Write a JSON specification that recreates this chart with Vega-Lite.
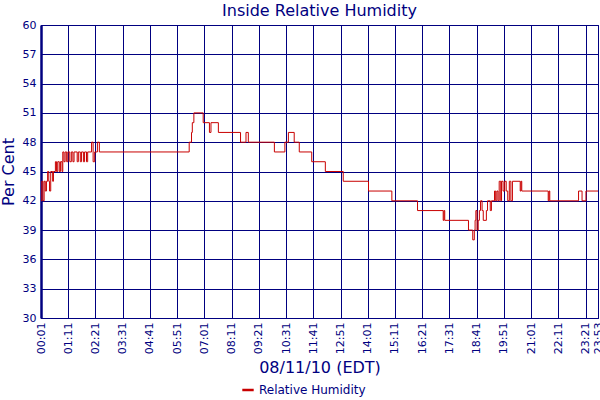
{
  "$schema": "https://vega.github.io/schema/vega-lite/v6.json",
  "width": 557,
  "height": 293,
  "autosize": {"type": "none"},
  "padding": {"left": 41, "top": 25, "right": 2, "bottom": 82},
  "background": "white",
  "title": {"text": "Inside Relative Humidity", "fontSize": 16, "font": "DejaVu Sans", "fontWeight": "normal", "color": "#000080", "offset": 0},
  "config": {
    "view": {"stroke": "#000080", "strokeWidth": 1},
    "font": "DejaVu Sans"
  },
  "data": {"values": [
    {"t": "2010-08-11T00:01", "rh": 42},
    {"t": "2010-08-11T00:03", "rh": 44},
    {"t": "2010-08-11T00:06", "rh": 42},
    {"t": "2010-08-11T00:09", "rh": 44},
    {"t": "2010-08-11T00:12", "rh": 43},
    {"t": "2010-08-11T00:15", "rh": 44},
    {"t": "2010-08-11T00:18", "rh": 45},
    {"t": "2010-08-11T00:21", "rh": 44},
    {"t": "2010-08-11T00:23", "rh": 43},
    {"t": "2010-08-11T00:26", "rh": 45},
    {"t": "2010-08-11T00:31", "rh": 44},
    {"t": "2010-08-11T00:33", "rh": 45},
    {"t": "2010-08-11T00:38", "rh": 46},
    {"t": "2010-08-11T00:41", "rh": 45},
    {"t": "2010-08-11T00:44", "rh": 46},
    {"t": "2010-08-11T00:48", "rh": 45},
    {"t": "2010-08-11T00:51", "rh": 46},
    {"t": "2010-08-11T00:55", "rh": 45},
    {"t": "2010-08-11T00:57", "rh": 47},
    {"t": "2010-08-11T01:00", "rh": 46},
    {"t": "2010-08-11T01:03", "rh": 47},
    {"t": "2010-08-11T01:07", "rh": 46},
    {"t": "2010-08-11T01:10", "rh": 47},
    {"t": "2010-08-11T01:15", "rh": 46},
    {"t": "2010-08-11T01:19", "rh": 47},
    {"t": "2010-08-11T01:23", "rh": 46},
    {"t": "2010-08-11T01:26", "rh": 47},
    {"t": "2010-08-11T01:34", "rh": 46},
    {"t": "2010-08-11T01:37", "rh": 47},
    {"t": "2010-08-11T01:42", "rh": 46},
    {"t": "2010-08-11T01:45", "rh": 47},
    {"t": "2010-08-11T01:50", "rh": 46},
    {"t": "2010-08-11T01:53", "rh": 47},
    {"t": "2010-08-11T01:58", "rh": 46},
    {"t": "2010-08-11T02:01", "rh": 47},
    {"t": "2010-08-11T02:11", "rh": 48},
    {"t": "2010-08-11T02:15", "rh": 46},
    {"t": "2010-08-11T02:19", "rh": 47},
    {"t": "2010-08-11T02:26", "rh": 48},
    {"t": "2010-08-11T02:31", "rh": 47},
    {"t": "2010-08-11T06:22", "rh": 48},
    {"t": "2010-08-11T06:28", "rh": 49},
    {"t": "2010-08-11T06:30", "rh": 50},
    {"t": "2010-08-11T06:34", "rh": 51},
    {"t": "2010-08-11T06:58", "rh": 50},
    {"t": "2010-08-11T07:14", "rh": 49},
    {"t": "2010-08-11T07:18", "rh": 50},
    {"t": "2010-08-11T07:37", "rh": 49},
    {"t": "2010-08-11T08:34", "rh": 48},
    {"t": "2010-08-11T08:48", "rh": 49},
    {"t": "2010-08-11T08:54", "rh": 48},
    {"t": "2010-08-11T10:01", "rh": 47},
    {"t": "2010-08-11T10:28", "rh": 48},
    {"t": "2010-08-11T10:37", "rh": 49},
    {"t": "2010-08-11T10:52", "rh": 48},
    {"t": "2010-08-11T11:05", "rh": 47},
    {"t": "2010-08-11T11:37", "rh": 46},
    {"t": "2010-08-11T12:12", "rh": 45},
    {"t": "2010-08-11T12:58", "rh": 44},
    {"t": "2010-08-11T14:03", "rh": 43},
    {"t": "2010-08-11T15:03", "rh": 42},
    {"t": "2010-08-11T16:09", "rh": 41},
    {"t": "2010-08-11T17:15", "rh": 40},
    {"t": "2010-08-11T17:17", "rh": 41},
    {"t": "2010-08-11T17:19", "rh": 40},
    {"t": "2010-08-11T18:20", "rh": 39},
    {"t": "2010-08-11T18:31", "rh": 38},
    {"t": "2010-08-11T18:35", "rh": 39},
    {"t": "2010-08-11T18:37", "rh": 40},
    {"t": "2010-08-11T18:39", "rh": 41},
    {"t": "2010-08-11T18:42", "rh": 39},
    {"t": "2010-08-11T18:45", "rh": 40},
    {"t": "2010-08-11T18:48", "rh": 41},
    {"t": "2010-08-11T18:51", "rh": 42},
    {"t": "2010-08-11T18:55", "rh": 41},
    {"t": "2010-08-11T18:58", "rh": 40},
    {"t": "2010-08-11T19:06", "rh": 41},
    {"t": "2010-08-11T19:09", "rh": 42},
    {"t": "2010-08-11T19:16", "rh": 41},
    {"t": "2010-08-11T19:19", "rh": 42},
    {"t": "2010-08-11T19:27", "rh": 43},
    {"t": "2010-08-11T19:30", "rh": 42},
    {"t": "2010-08-11T19:33", "rh": 43},
    {"t": "2010-08-11T19:36", "rh": 42},
    {"t": "2010-08-11T19:39", "rh": 44},
    {"t": "2010-08-11T19:43", "rh": 42},
    {"t": "2010-08-11T19:45", "rh": 44},
    {"t": "2010-08-11T19:49", "rh": 43},
    {"t": "2010-08-11T19:53", "rh": 44},
    {"t": "2010-08-11T19:57", "rh": 43},
    {"t": "2010-08-11T20:01", "rh": 42},
    {"t": "2010-08-11T20:05", "rh": 44},
    {"t": "2010-08-11T20:09", "rh": 42},
    {"t": "2010-08-11T20:13", "rh": 44},
    {"t": "2010-08-11T20:33", "rh": 43},
    {"t": "2010-08-11T20:35", "rh": 44},
    {"t": "2010-08-11T20:37", "rh": 43},
    {"t": "2010-08-11T21:45", "rh": 42},
    {"t": "2010-08-11T21:47", "rh": 43},
    {"t": "2010-08-11T21:49", "rh": 42},
    {"t": "2010-08-11T23:03", "rh": 43},
    {"t": "2010-08-11T23:12", "rh": 42},
    {"t": "2010-08-11T23:22", "rh": 43},
    {"t": "2010-08-11T23:53", "rh": 43}
  ]},
  "mark": {"type": "line", "interpolate": "step-after", "strokeWidth": 1},
  "encoding": {
    "x": {
      "field": "t", "type": "temporal",
      "scale": {"domain": [
        {"year": 2010, "month": 8, "date": 11, "hours": 0, "minutes": 1},
        {"year": 2010, "month": 8, "date": 11, "hours": 23, "minutes": 53}
      ], "nice": false},
      "axis": {
        "title": "08/11/10 (EDT)",
        "format": "%H:%M",
        "values": [
          {"year": 2010, "month": 8, "date": 11, "hours": 0, "minutes": 1},
          {"year": 2010, "month": 8, "date": 11, "hours": 1, "minutes": 11},
          {"year": 2010, "month": 8, "date": 11, "hours": 2, "minutes": 21},
          {"year": 2010, "month": 8, "date": 11, "hours": 3, "minutes": 31},
          {"year": 2010, "month": 8, "date": 11, "hours": 4, "minutes": 41},
          {"year": 2010, "month": 8, "date": 11, "hours": 5, "minutes": 51},
          {"year": 2010, "month": 8, "date": 11, "hours": 7, "minutes": 1},
          {"year": 2010, "month": 8, "date": 11, "hours": 8, "minutes": 11},
          {"year": 2010, "month": 8, "date": 11, "hours": 9, "minutes": 21},
          {"year": 2010, "month": 8, "date": 11, "hours": 10, "minutes": 31},
          {"year": 2010, "month": 8, "date": 11, "hours": 11, "minutes": 41},
          {"year": 2010, "month": 8, "date": 11, "hours": 12, "minutes": 51},
          {"year": 2010, "month": 8, "date": 11, "hours": 14, "minutes": 1},
          {"year": 2010, "month": 8, "date": 11, "hours": 15, "minutes": 11},
          {"year": 2010, "month": 8, "date": 11, "hours": 16, "minutes": 21},
          {"year": 2010, "month": 8, "date": 11, "hours": 17, "minutes": 31},
          {"year": 2010, "month": 8, "date": 11, "hours": 18, "minutes": 41},
          {"year": 2010, "month": 8, "date": 11, "hours": 19, "minutes": 51},
          {"year": 2010, "month": 8, "date": 11, "hours": 21, "minutes": 1},
          {"year": 2010, "month": 8, "date": 11, "hours": 22, "minutes": 11},
          {"year": 2010, "month": 8, "date": 11, "hours": 23, "minutes": 21},
          {"year": 2010, "month": 8, "date": 11, "hours": 23, "minutes": 53}
        ],
        "labelAngle": 270,
        "labelFontSize": 11,
        "labelColor": "#000080",
        "labelPadding": 4,
        "labelOverlap": false,
        "labelFlush": false,
        "ticks": false,
        "grid": true,
        "gridColor": "#000080",
        "gridOpacity": 1,
        "gridWidth": 1,
        "domainColor": "#000080",
        "domainWidth": 1,
        "titleFontSize": 16,
        "titleFontWeight": "normal",
        "titleColor": "#000080",
        "titlePadding": 6
      }
    },
    "y": {
      "field": "rh", "type": "quantitative",
      "scale": {"domain": [30, 60], "nice": false, "zero": false},
      "axis": {
        "title": "Per Cent",
        "values": [30, 33, 36, 39, 42, 45, 48, 51, 54, 57, 60],
        "labelFontSize": 11,
        "labelColor": "#000080",
        "labelPadding": 5,
        "ticks": false,
        "grid": true,
        "gridColor": "#000080",
        "gridOpacity": 1,
        "gridWidth": 1,
        "domainColor": "#000080",
        "domainWidth": 2.5,
        "titleFontSize": 16,
        "titleFontWeight": "normal",
        "titleColor": "#000080",
        "titlePadding": 6
      }
    },
    "color": {
      "datum": "Relative Humidity",
      "type": "nominal",
      "scale": {"range": ["#c80000"]},
      "legend": {
        "title": null,
        "orient": "none",
        "legendX": 200,
        "legendY": 358,
        "symbolType": "stroke",
        "symbolStrokeWidth": 2.5,
        "symbolSize": 130,
        "labelFontSize": 12,
        "labelColor": "#000080"
      }
    }
  }
}
